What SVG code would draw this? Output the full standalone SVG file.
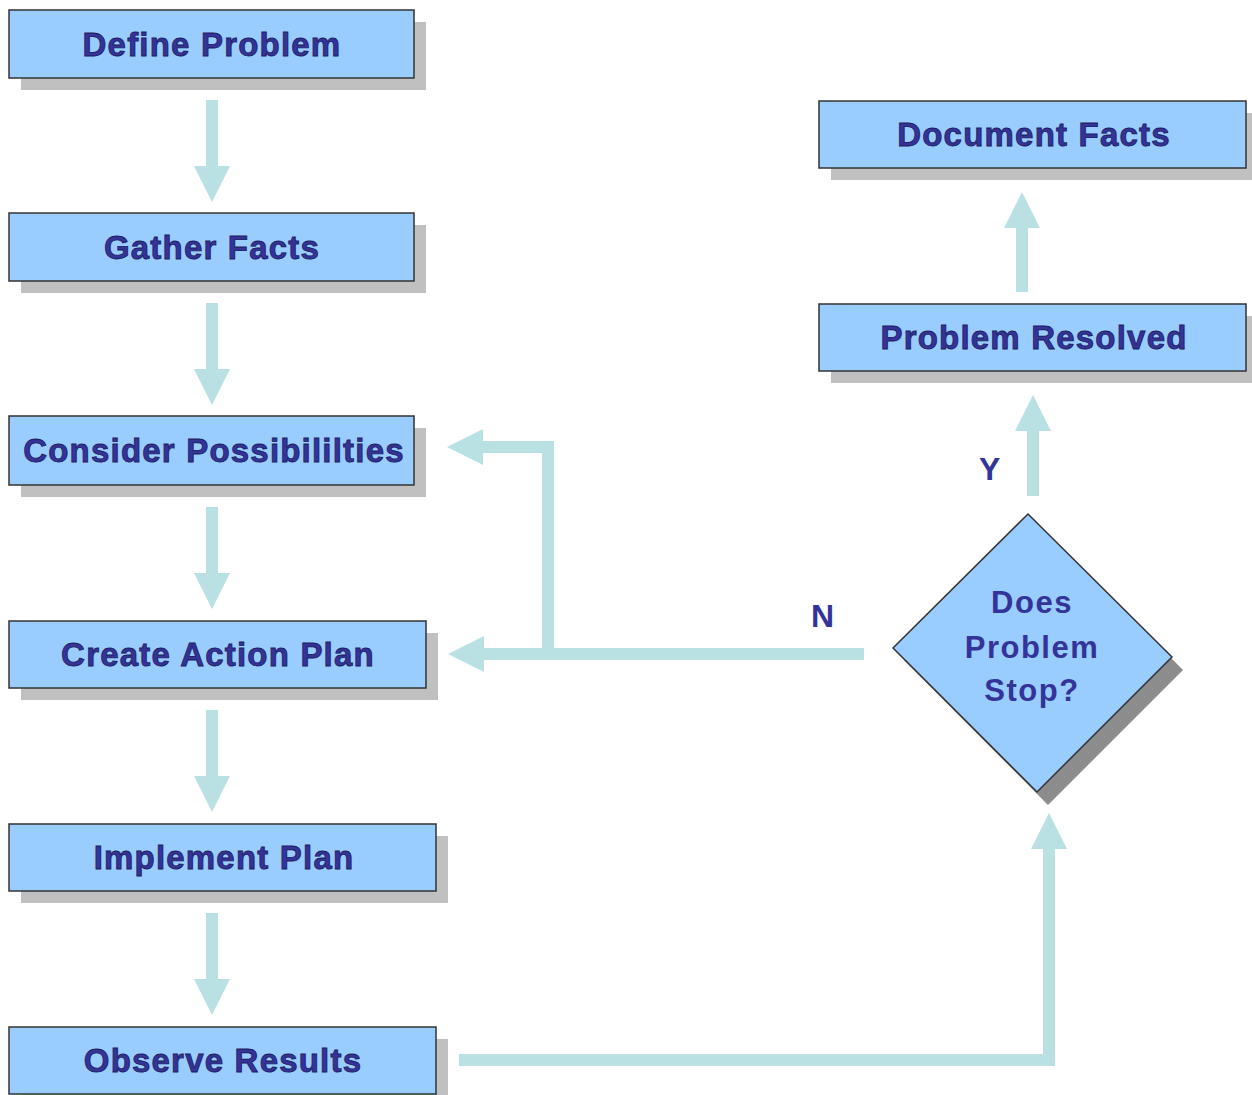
<svg xmlns="http://www.w3.org/2000/svg" width="1252" height="1095" viewBox="0 0 1252 1095">
<defs>
<style>
.shadow{fill:#c0c0c0}
.box{fill:#99ccff;stroke:#333333;stroke-width:1.5}
.lbl{font-family:"Liberation Sans",Arial,sans-serif;font-weight:bold;font-size:33px;letter-spacing:1.2px;fill:#333399;stroke:#1c1c5a;stroke-width:0.8;text-anchor:middle}
.dtxt{font-family:"Liberation Sans",Arial,sans-serif;font-weight:bold;font-size:31px;letter-spacing:1.5px;fill:#333399;text-anchor:middle}
.yn{font-family:"Liberation Sans",Arial,sans-serif;font-weight:bold;font-size:32px;fill:#333399}
.conn{fill:none;stroke:#b9e0e3;stroke-width:12;stroke-linejoin:miter;stroke-linecap:butt}
</style>
<marker id="ah" markerUnits="userSpaceOnUse" markerWidth="36" markerHeight="36" refX="0" refY="18" orient="auto" viewBox="0 0 36 36">
<path d="M0,0 L36,18 L0,36 Z" fill="#b9e0e3"/>
</marker>
</defs>
<rect width="1252" height="1095" fill="#ffffff"/>
<g id="connectors">
<path class="conn" d="M212,100 V166" marker-end="url(#ah)"/>
<path class="conn" d="M212,303 V369" marker-end="url(#ah)"/>
<path class="conn" d="M212,507 V573" marker-end="url(#ah)"/>
<path class="conn" d="M212,710 V776" marker-end="url(#ah)"/>
<path class="conn" d="M212,913 V979" marker-end="url(#ah)"/>
<path class="conn" d="M1022,292 V228" marker-end="url(#ah)"/>
<path class="conn" d="M1033,496 V431" marker-end="url(#ah)"/>
<path class="conn" d="M864,654 H484" marker-end="url(#ah)"/>
<path class="conn" d="M548,654 V447 H483" marker-end="url(#ah)"/>
<path class="conn" d="M459,1060 H1049 V849" marker-end="url(#ah)"/>
<text class="yn" x="979" y="480">Y</text>
<text class="yn" x="811" y="627">N</text>
</g>
<g id="define-problem">
<rect class="shadow" x="21" y="22" width="405" height="68"/>
<rect class="box" x="9" y="10" width="405" height="68"/>
<text class="lbl" x="212" y="56">Define Problem</text>
</g>
<g id="gather-facts">
<rect class="shadow" x="21" y="225" width="405" height="68"/>
<rect class="box" x="9" y="213" width="405" height="68"/>
<text class="lbl" x="212" y="259">Gather Facts</text>
</g>
<g id="consider-possibilities">
<rect class="shadow" x="21" y="428" width="405" height="69"/>
<rect class="box" x="9" y="416" width="405" height="69"/>
<text class="lbl" x="214" y="462">Consider Possibililties</text>
</g>
<g id="create-action-plan">
<rect class="shadow" x="21" y="633" width="417" height="67"/>
<rect class="box" x="9" y="621" width="417" height="67"/>
<text class="lbl" x="218" y="666">Create Action Plan</text>
</g>
<g id="implement-plan">
<rect class="shadow" x="21" y="836" width="427" height="67"/>
<rect class="box" x="9" y="824" width="427" height="67"/>
<text class="lbl" x="224" y="869">Implement Plan</text>
</g>
<g id="observe-results">
<rect class="shadow" x="21" y="1039" width="427" height="67"/>
<rect class="box" x="9" y="1027" width="427" height="67"/>
<text class="lbl" x="223" y="1072">Observe Results</text>
</g>
<g id="document-facts">
<rect class="shadow" x="831" y="113" width="427" height="67"/>
<rect class="box" x="819" y="101" width="427" height="67"/>
<text class="lbl" x="1034" y="146">Document Facts</text>
</g>
<g id="problem-resolved">
<rect class="shadow" x="831" y="316" width="427" height="67"/>
<rect class="box" x="819" y="304" width="427" height="67"/>
<text class="lbl" x="1034" y="349">Problem Resolved</text>
</g>
<g id="does-problem-stop">
<polygon points="1039,526 1183,670 1048,805 904,660" fill="#8c8c8c"/>
<polygon class="box" points="1028,514 1172,657 1037,792 893,648"/>
<text class="dtxt" x="1032" y="613">Does</text>
<text class="dtxt" x="1032" y="658">Problem</text>
<text class="dtxt" x="1032" y="701">Stop?</text>
</g>
</svg>
